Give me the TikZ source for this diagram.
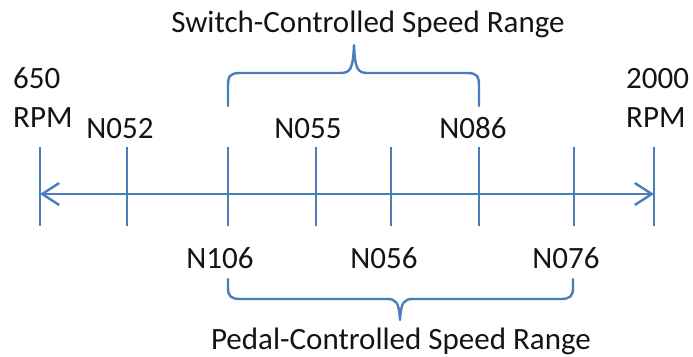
\documentclass[tikz,border=0pt]{standalone}
\usepackage{fontspec}
\setmainfont{Carlito}
\usetikzlibrary{arrows.meta}
\definecolor{axisblue}{RGB}{74,126,187}
\definecolor{txt}{RGB}{20,20,20}
\begin{document}
\begin{tikzpicture}[x=1pt,y=-1pt,
  lbl/.style={inner sep=0pt,anchor=base,text=txt,font=\fontsize{31}{37}\selectfont},
  lbll/.style={lbl,anchor=base west},
  tick/.style={draw=axisblue,line width=2.4pt},
  brace/.style={draw=axisblue,line width=2.4pt,line cap=round,line join=round},
  axis/.style={draw=axisblue,line width=2.4pt,{Straight Barb[length=17pt,width=22pt,line width=2.4pt]}-{Straight Barb[length=17pt,width=22pt,line width=2.4pt]}}]
\useasboundingbox (0,0) rectangle (693,356);
% tick coordinates
\foreach \n/\x in {a/40,b/127,c/228,d/316,e/391,f/479,g/574,h/654}{
  \coordinate (\n t) at (\x,147);
  \coordinate (\n b) at (\x,226);
  \coordinate (\n m) at (\x,194);
}
\foreach \n in {a,b,c,d,e,f,g,h}{\draw[tick] (\n t) -- (\n b);}
\draw[axis] (am) -- (hm);
% labels
\node[lbll] (l650) at (13,88) {650};
\node[lbll] (lrpm1) at (13,127) {RPM};
\node[lbll] (l2000) at (626,88) {2000};
\node[lbll] (lrpm2) at (626,127) {RPM};
\node[lbl] (n052) at (120,138) {N052};
\node[lbl] (n055) at (308,138) {N055};
\node[lbl] (n086) at (473,138) {N086};
\node[lbl] (n106) at (220,268) {N106};
\node[lbl] (n056) at (384,268) {N056};
\node[lbl] (n076) at (566,268) {N076};
\node[lbl] (sw) at (368,32) {Switch-Controlled Speed Range};
\node[lbl] (pd) at (401,349) {Pedal-Controlled Speed Range};
% top brace
\coordinate (tb1) at (228,106);
\coordinate (tb2) at (479,106);
\coordinate (ttip) at (354,45);
\draw[brace] (tb1) -- (228,86) .. controls (228,76) and (230,73) .. (240,73)
  -- (340,73) .. controls (350,73) and (353,70) .. (ttip)
  .. controls (355,70) and (358,73) .. (368,73)
  -- (467,73) .. controls (477,73) and (479,76) .. (479,86) -- (tb2);
% bottom brace
\coordinate (bb1) at (228,279);
\coordinate (bb2) at (573,279);
\coordinate (btip) at (400,320);
\draw[brace] (bb1) -- (228,288) .. controls (228,296) and (231,299) .. (240,299)
  -- (387,299) .. controls (396,299) and (399,302) .. (btip)
  .. controls (401,302) and (404,299) .. (413,299)
  -- (561,299) .. controls (570,299) and (573,296) .. (573,288) -- (bb2);
\end{tikzpicture}
\end{document}
